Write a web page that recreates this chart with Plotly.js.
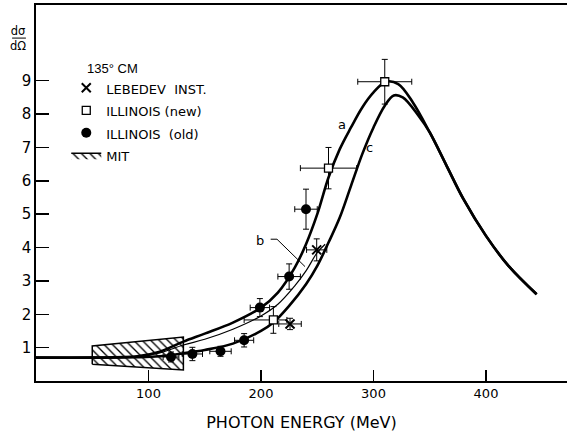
<!DOCTYPE html>
<html>
<head>
<meta charset="utf-8">
<script src="https://cdn.plot.ly/plotly-3.0.1.min.js"></script>
<style>html,body{margin:0;padding:0;background:#fff;}#chart{width:571px;height:436px;}</style>
</head>
<body>
<div id="chart"></div>
<script>
// ---- Theoretical curves ----
const energyA = [0, 50, 90, 110, 131, 150, 175, 200, 215, 230, 240, 250, 260, 270, 280, 290, 300, 311, 322, 335, 350, 365, 380, 400, 420, 445];
const curveA  = [0.70, 0.70, 0.74, 0.88, 1.18, 1.42, 1.75, 2.2, 2.65, 3.4, 4.1, 5.0, 6.1, 6.95, 7.6, 8.2, 8.65, 8.97, 8.9, 8.35, 7.45, 6.45, 5.45, 4.35, 3.45, 2.6];
const energyB = [0, 50, 90, 110, 131, 150, 175, 200, 215, 230, 240, 250, 257];
const curveB  = [0.70, 0.70, 0.73, 0.84, 1.08, 1.25, 1.55, 1.95, 2.3, 2.85, 3.3, 3.85, 4.1];
const energyC = [0, 50, 90, 110, 131, 150, 175, 200, 211, 225, 240, 250, 260, 270, 280, 290, 300, 310, 318, 326, 340, 350, 365, 380, 400, 420, 445];
const curveC  = [0.70, 0.70, 0.71, 0.74, 0.83, 0.93, 1.12, 1.5, 1.75, 2.25, 2.9, 3.45, 4.15, 4.9, 5.85, 6.8, 7.6, 8.25, 8.56, 8.5, 7.95, 7.45, 6.45, 5.45, 4.35, 3.45, 2.6];

// ---- Data points ----
const lebedevE   = [225.8, 249.5];
const lebedevV   = [1.71, 3.93];
const lebedevEx  = [10, 9];
const lebedevVx  = [0.17, 0.33];

const illNewE    = [211, 260, 310];
const illNewV    = [1.83, 6.38, 8.97];
const illNewExP  = [12, 25, 24];
const illNewExM  = [26, 25, 24];
const illNewVx   = [0.40, 0.62, 0.67];

const illOldE    = [120, 139, 164, 185, 199, 225, 240];
const illOldV    = [0.72, 0.81, 0.89, 1.22, 2.20, 3.13, 5.15];
const illOldEx   = [7, 9, 9.5, 8.5, 8.6, 10, 10];
const illOldVx   = [0.15, 0.2, 0.15, 0.2, 0.27, 0.38, 0.6];

// MIT band (trapezoid corners)
const mitE = [50, 131, 131, 50, 50];
const mitV = [0.50, 0.33, 1.32, 1.05, 0.50];

// ticks
const xTicks = [100, 200, 300, 400];
const yTicks = [1, 2, 3, 4, 5, 6, 7, 8, 9];

const FONT = 'DejaVu Sans, Liberation Sans, Arial, sans-serif';
const FONT2 = 'Liberation Sans, Arial, sans-serif';
const eb = (arr, extra) => Object.assign({type: 'data', array: arr, color: '#000', thickness: 1, width: 3}, extra || {});
const lg = s => '<span style="font-size:13px">' + s + '</span>';

const traces = [
  {x: mitE, y: mitV, mode: 'lines', fill: 'toself', name: lg('MIT'), legendrank: 4,
   line: {color: '#000', width: 1.5},
   fillcolor: 'rgba(255,255,255,0)',
   fillpattern: {shape: '\\', fgcolor: '#000', bgcolor: '#fff', size: 6, solidity: 0.22}},
  {x: energyA, y: curveA, mode: 'lines', line: {color: '#000', width: 2.6, shape: 'spline', smoothing: 1}, showlegend: false, hoverinfo: 'skip'},
  {x: energyB, y: curveB, mode: 'lines', line: {color: '#000', width: 1.2, shape: 'spline', smoothing: 1}, showlegend: false, hoverinfo: 'skip'},
  {x: energyC, y: curveC, mode: 'lines', line: {color: '#000', width: 2.6, shape: 'spline', smoothing: 1}, showlegend: false, hoverinfo: 'skip'},
  {x: illOldE, y: illOldV, mode: 'markers', name: lg('ILLINOIS  (old)'), legendrank: 3,
   marker: {symbol: 'circle', size: 10, color: '#000'},
   error_x: eb(illOldEx), error_y: eb(illOldVx)},
  {x: illNewE, y: illNewV, mode: 'markers', name: lg('ILLINOIS (new)'), legendrank: 2,
   marker: {symbol: 'square', size: 8, color: '#fff', line: {color: '#000', width: 1.3}},
   error_x: eb(illNewExP, {symmetric: false, arrayminus: illNewExM}), error_y: eb(illNewVx)},
  {x: lebedevE, y: lebedevV, mode: 'markers', name: lg('LEBEDEV  INST.'), legendrank: 1,
   marker: {symbol: 'x-thin-open', size: 9, color: '#000', line: {color: '#000', width: 2}},
   error_x: eb(lebedevEx), error_y: eb(lebedevVx)}
];

const layout = {
  width: 571, height: 436,
  margin: {l: 36, r: 4, t: 5, b: 55},
  paper_bgcolor: '#fff', plot_bgcolor: '#fff',
  font: {family: FONT, color: '#000', size: 13},
  showlegend: true,
  legend: {x: 0.057, y: 0.823, xanchor: 'left', yanchor: 'top', bgcolor: 'rgba(0,0,0,0)',
           font: {family: FONT, size: 15, color: '#000'}, tracegroupgap: 0, itemwidth: 30},
  xaxis: {range: [0, 472], showgrid: false, zeroline: false, showline: true, linecolor: '#000', linewidth: 1.8,
          mirror: true, ticks: 'inside', ticklen: 11, tickwidth: 1.5, tickcolor: '#000',
          tickvals: xTicks, ticktext: xTicks.map(String), tickfont: {size: 13, family: FONT},
          title: {text: 'PHOTON ENERGY (MeV)', font: {size: 16, family: FONT}, standoff: 16}},
  yaxis: {range: [0, 11.27], showgrid: false, zeroline: false, showline: true, linecolor: '#000', linewidth: 1.8,
          ticks: 'inside', ticklen: 13, tickwidth: 1.5, tickcolor: '#000',
          tickvals: yTicks, ticktext: yTicks.map(String), tickfont: {size: 15, family: FONT}},
  annotations: [
    {xref: 'paper', yref: 'paper', x: -0.033, y: 0.911, text: 'dσ<br>dΩ', showarrow: false, font: {size: 11.5}, xanchor: 'center', yanchor: 'middle', borderpad: 0},
    {xref: 'paper', yref: 'paper', x: 0.0923, y: 0.83, text: '135° CM', showarrow: false, font: {size: 13, family: FONT2}, xanchor: 'left', yanchor: 'middle'},
    {x: 272, y: 7.7, text: 'a', showarrow: false, font: {size: 13}},
    {x: 199.1, y: 4.22, text: 'b', showarrow: false, font: {size: 13}},
    {x: 296.3, y: 7.0, text: 'c', showarrow: false, font: {size: 13}}
  ],
  shapes: [
    {type: 'line', xref: 'paper', yref: 'paper', x0: -0.045, x1: -0.019, y0: 0.912, y1: 0.912, line: {color: '#000', width: 1}},
    {type: 'path', path: 'M 208.6 4.25 L 214.2 4.25 L 239.1 3.43', line: {color: '#000', width: 1}}
  ]
};

Plotly.newPlot('chart', traces, layout, {displayModeBar: false, staticPlot: true});
</script>
</body>
</html>
